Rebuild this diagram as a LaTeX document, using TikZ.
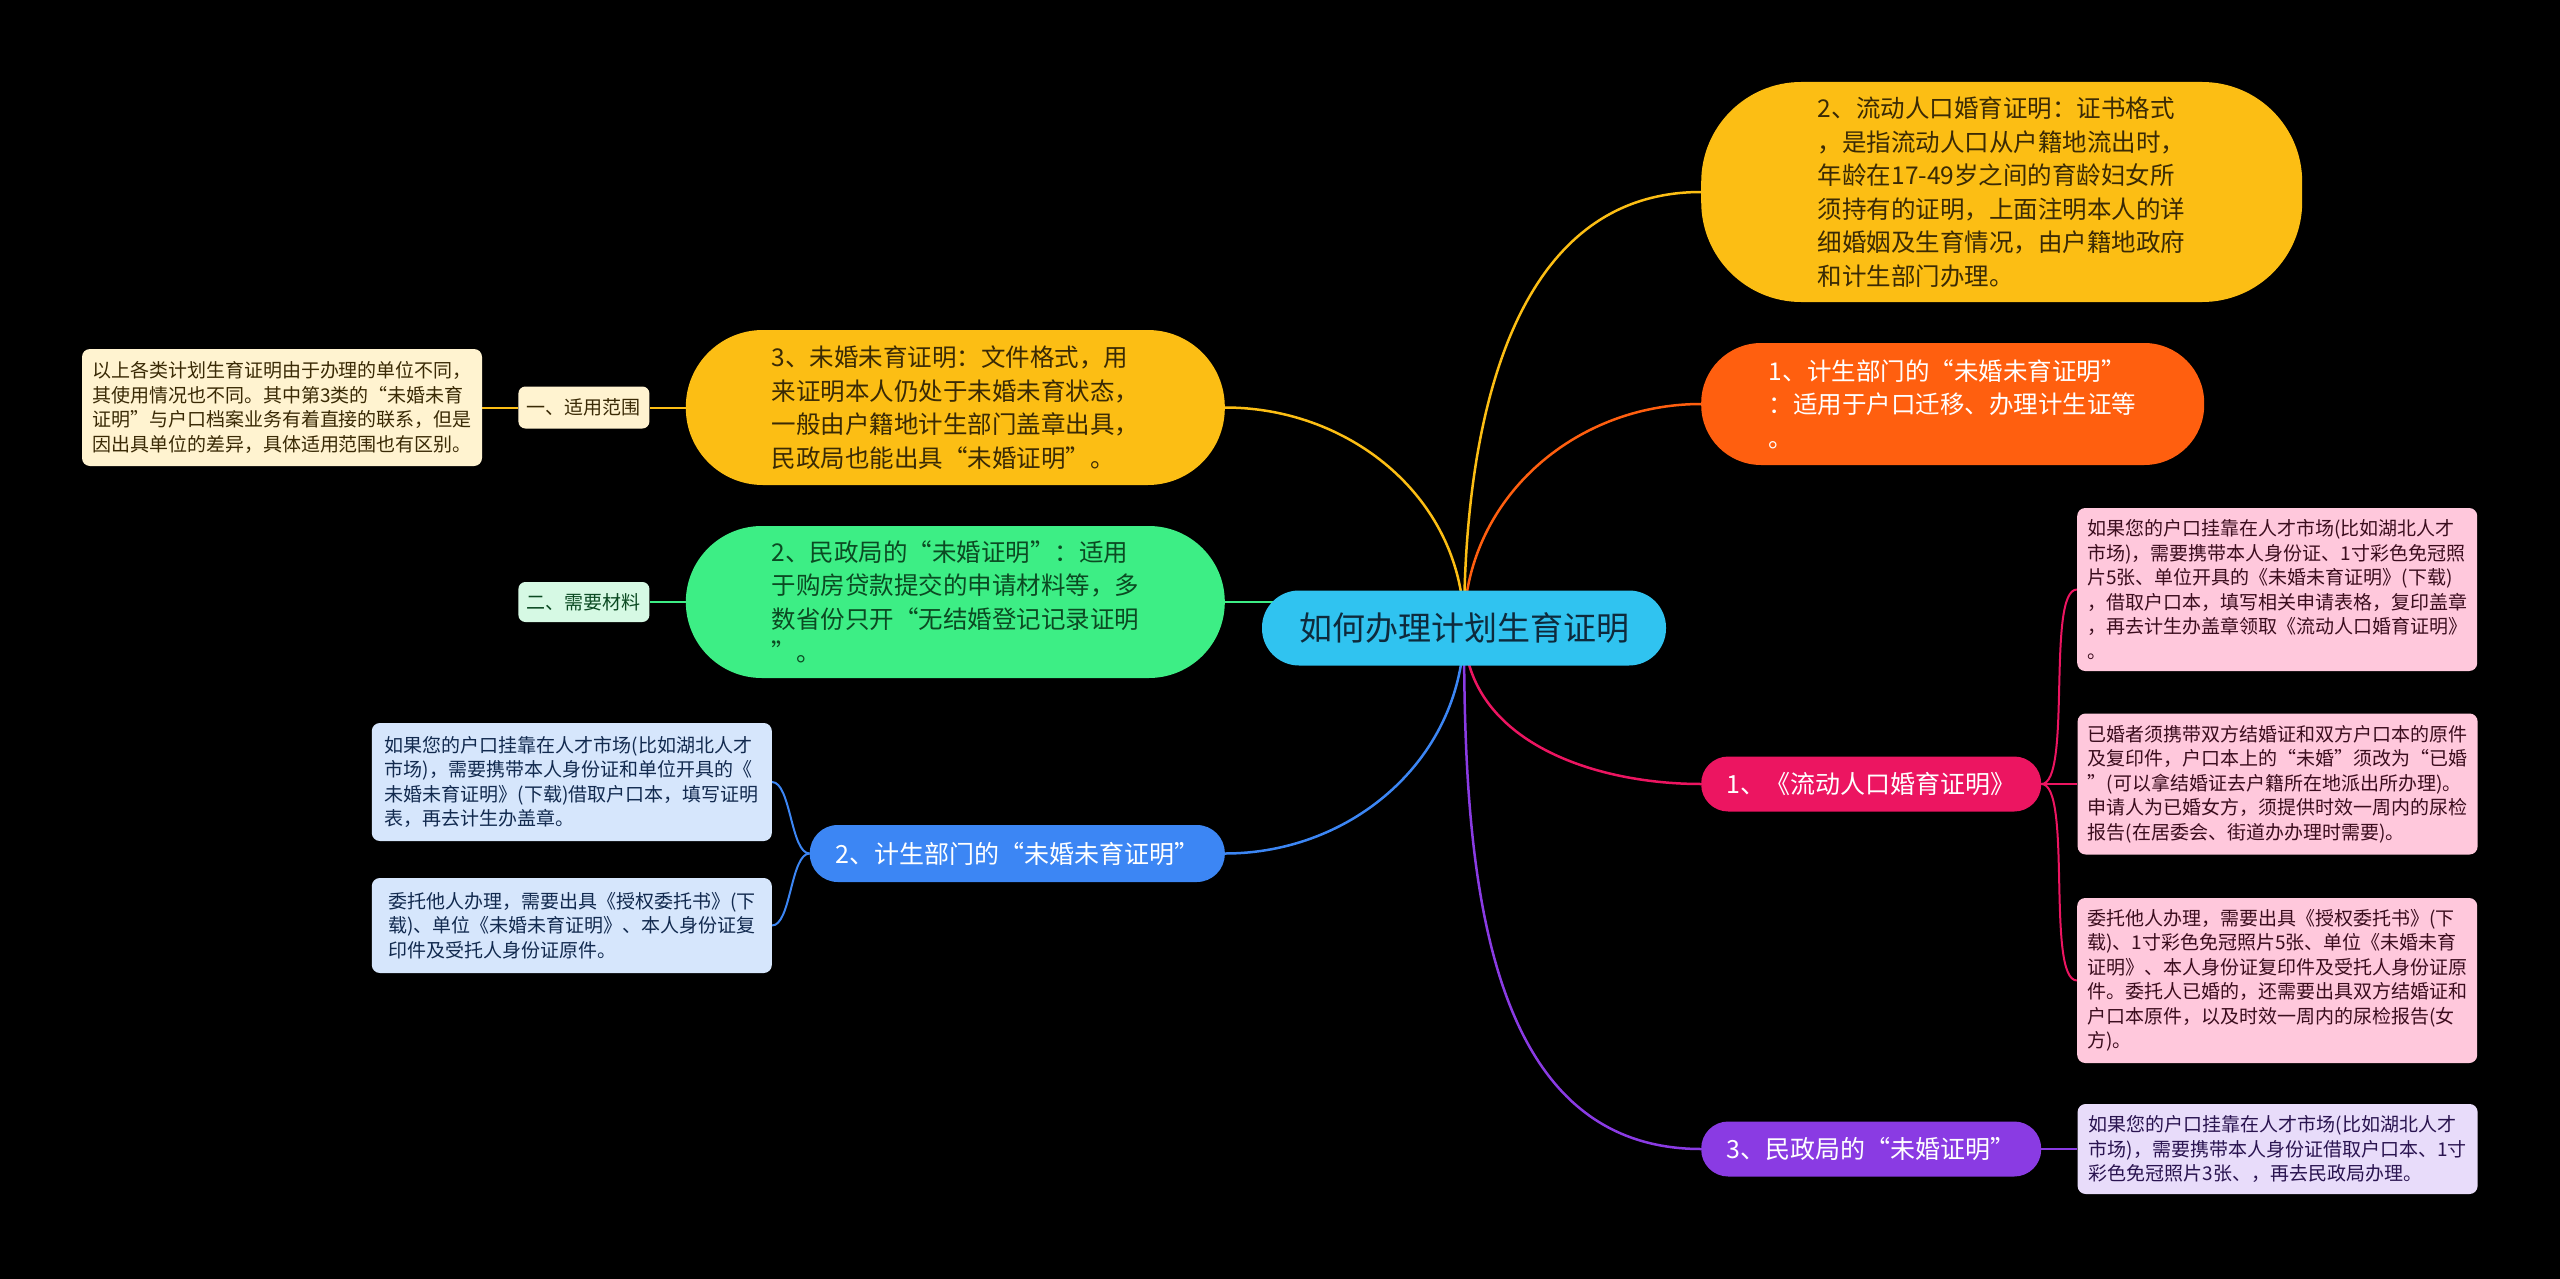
\documentclass[tikz,border=0pt]{standalone}
\usepackage{fontspec}
\setmainfont{Noto Sans CJK SC}
\usetikzlibrary{positioning}

% colori dei rami e delle foglie
\definecolor{celesteRadice}{HTML}{30C3F0}
\definecolor{giallo}{HTML}{FCBE14}
\definecolor{arancio}{HTML}{FF5F0F}
\definecolor{fucsia}{HTML}{EC1561}
\definecolor{viola}{HTML}{8A3BE3}
\definecolor{blu}{HTML}{3C86F4}
\definecolor{verde}{HTML}{3DEE85}
\definecolor{crema}{HTML}{FFF3D0}
\definecolor{menta}{HTML}{D6F9E4}
\definecolor{azzurrino}{HTML}{D6E6FC}
\definecolor{rosa}{HTML}{FFC8DC}
\definecolor{lilla}{HTML}{E8DCFA}
\definecolor{testoRadice}{HTML}{0E2A3C}
\definecolor{testoGiallo}{HTML}{3A2A05}
\definecolor{testoVerde}{HTML}{0B4A22}
\definecolor{testoBlu}{HTML}{122A4F}
\definecolor{testoRosa}{HTML}{3B0D1E}
\definecolor{testoLilla}{HTML}{2A1450}

\pgfdeclarelayer{sfondo}
\pgfdeclarelayer{linee}
\pgfsetlayers{sfondo,linee,main}

\begin{document}
\begin{tikzpicture}[x=1pt, y=1pt,
    base/.style={align=left, inner sep=0pt},
    grande/.style={base, font=\fontsize{24.5}{33.5}\selectfont},
    medio/.style={base, font=\fontsize{25}{34}\selectfont, text=white,
        minimum width=340pt, minimum height=55pt, rounded corners=27pt},
    foglia/.style={base, font=\fontsize{19}{24.5}\selectfont,
        minimum width=400pt, rounded corners=8pt},
    etichetta/.style={base, font=\fontsize{19}{24.5}\selectfont,
        minimum width=131pt, minimum height=42pt, rounded corners=7pt},
    ramo/.style={line width=2.5pt},
    rametto/.style={line width=2pt},
]
    % ==========================================
    % PARAMETRI (unita' = pixel del riferimento)
    % ==========================================
    \def\xDx{1701}   % bordo sinistro dei rami a destra
    \def\xSx{1225}   % bordo destro dei rami a sinistra
    \def\xFoglie{2077}

    % sfondo nero
    \begin{pgfonlayer}{sfondo}
        \fill[black] (0,0) rectangle (2560,-1279);
    \end{pgfonlayer}

    % ==========================================
    % RADICE
    % ==========================================
    \node[base, fill=celesteRadice, text=testoRadice,
          font=\fontsize{33}{40}\selectfont,
          minimum width=404pt, minimum height=75pt, rounded corners=37pt]
        (radice) at (1464,-628) {如何办理计划生育证明};

    % ==========================================
    % RAMI A DESTRA
    % ==========================================
    \node[grande, anchor=west, fill=giallo, text=testoGiallo,
          minimum width=601pt, minimum height=220pt, rounded corners=100pt]
        (certFlusso) at (\xDx,-192) {2、流动人口婚育证明：证书格式\\
        ，是指流动人口从户籍地流出时，\\
        年龄在17-49岁之间的育龄妇女所\\
        须持有的证明，上面注明本人的详\\
        细婚姻及生育情况，由户籍地政府\\
        和计生部门办理。};

    \node[grande, anchor=west, fill=arancio, text=white,
          minimum width=503pt, minimum height=122pt, rounded corners=60pt]
        (certPianif) at (\xDx,-404) {1、计生部门的“未婚未育证明”\\
        ：适用于户口迁移、办理计生证等\\
        。};

    \node[medio, anchor=west, fill=fucsia] (flusso) at (\xDx,-784)
        {1、《流动人口婚育证明》};

    \node[medio, anchor=west, fill=viola] (civile) at (\xDx,-1149)
        {3、民政局的“未婚证明”};

    % foglie del ramo fucsia
    \node[foglia, anchor=west, fill=rosa, text=testoRosa, minimum height=163pt]
        (flussoA) at (\xFoglie,-589.5) {如果您的户口挂靠在人才市场(比如湖北人才\\
        市场)，需要携带本人身份证、1寸彩色免冠照\\
        片5张、单位开具的《未婚未育证明》(下载)\\
        ，借取户口本，填写相关申请表格，复印盖章\\
        ，再去计生办盖章领取《流动人口婚育证明》\\
        。};

    \node[foglia, right=36pt of flusso, fill=rosa, text=testoRosa, minimum height=141pt]
        (flussoB) {已婚者须携带双方结婚证和双方户口本的原件\\
        及复印件，户口本上的“未婚”须改为“已婚\\
        ”(可以拿结婚证去户籍所在地派出所办理)。\\
        申请人为已婚女方，须提供时效一周内的尿检\\
        报告(在居委会、街道办办理时需要)。};

    \node[foglia, anchor=west, fill=rosa, text=testoRosa, minimum height=165pt]
        (flussoC) at (\xFoglie,-980.5) {委托他人办理，需要出具《授权委托书》(下\\
        载)、1寸彩色免冠照片5张、单位《未婚未育\\
        证明》、本人身份证复印件及受托人身份证原\\
        件。委托人已婚的，还需要出具双方结婚证和\\
        户口本原件，以及时效一周内的尿检报告(女\\
        方)。};

    % foglia del ramo viola
    \node[foglia, right=36pt of civile, fill=lilla, text=testoLilla, minimum height=90pt]
        (civileA) {如果您的户口挂靠在人才市场(比如湖北人才\\
        市场)，需要携带本人身份证借取户口本、1寸\\
        彩色免冠照片3张、，再去民政局办理。};

    % ==========================================
    % RAMI A SINISTRA
    % ==========================================
    \node[grande, anchor=east, fill=giallo, text=testoGiallo,
          minimum width=539pt, minimum height=155pt, rounded corners=77pt]
        (nubile) at (\xSx,-407.5) {3、未婚未育证明：文件格式，用\\
        来证明本人仍处于未婚未育状态，\\
        一般由户籍地计生部门盖章出具，\\
        民政局也能出具“未婚证明”。};

    \node[grande, anchor=east, fill=verde, text=testoVerde,
          minimum width=539pt, minimum height=152pt, rounded corners=76pt]
        (civileB) at (\xSx,-602) {2、民政局的“未婚证明”：适用\\
        于购房贷款提交的申请材料等，多\\
        数省份只开“无结婚登记记录证明\\
        ”。};

    \node[medio, anchor=east, fill=blu, minimum width=415pt,
          minimum height=57pt, rounded corners=28pt]
        (pianif) at (\xSx,-853.5) {2、计生部门的“未婚未育证明”};

    \node[etichetta, left=36pt of nubile, fill=crema, text=testoGiallo]
        (ambito) {一、适用范围};
    \node[foglia, left=36pt of ambito, fill=crema, text=testoGiallo, minimum height=117pt]
        (ambitoA) {以上各类计划生育证明由于办理的单位不同，\\
        其使用情况也不同。其中第3类的“未婚未育\\
        证明”与户口档案业务有着直接的联系，但是\\
        因出具单位的差异，具体适用范围也有区别。};

    \node[etichetta, left=36pt of civileB, fill=menta, text=testoVerde, minimum height=40pt]
        (materiali) {二、需要材料};

    \node[foglia, anchor=east, fill=azzurrino, text=testoBlu, minimum height=118pt]
        (pianifA) at (772,-782) {如果您的户口挂靠在人才市场(比如湖北人才\\
        市场)，需要携带本人身份证和单位开具的《\\
        未婚未育证明》(下载)借取户口本，填写证明\\
        表，再去计生办盖章。};
    \node[foglia, anchor=east, fill=azzurrino, text=testoBlu, minimum height=95pt]
        (pianifB) at (772,-925.5) {委托他人办理，需要出具《授权委托书》(下\\
        载)、单位《未婚未育证明》、本人身份证复\\
        印件及受托人身份证原件。};

    % ==========================================
    % COLLEGAMENTI
    % ==========================================
    \begin{pgfonlayer}{linee}
        \draw[ramo, giallo] (radice.center) to[out=90, in=180] (certFlusso.west);
        \draw[ramo, arancio] (radice.center) to[out=90, in=180] (certPianif.west);
        \draw[ramo, fucsia] (radice.center) to[out=-90, in=180] (flusso.west);
        \draw[ramo, viola] (radice.center) to[out=-90, in=180] (civile.west);
        \draw[ramo, giallo] (radice.center) to[out=90, in=0] (nubile.east);
        \draw[ramo, verde] (civileB.east) -- (civileB.east -| radice.center);
        \draw[ramo, blu] (radice.center) to[out=-90, in=0] (pianif.east);

        \draw[rametto, giallo] (nubile) -- (ambito) -- (ambitoA);
        \draw[rametto, verde] (civileB) -- (materiali);
        \draw[rametto, viola] (civile) -- (civileA);
        \foreach \f in {flussoA, flussoB, flussoC}
            \draw[rametto, fucsia] (flusso.east) to[out=0, in=180, looseness=0.4] (\f.west);
        \foreach \f in {pianifA, pianifB}
            \draw[rametto, blu] (pianif.west) to[out=180, in=0, looseness=0.6] (\f.east);
    \end{pgfonlayer}

\end{tikzpicture}
\end{document}
